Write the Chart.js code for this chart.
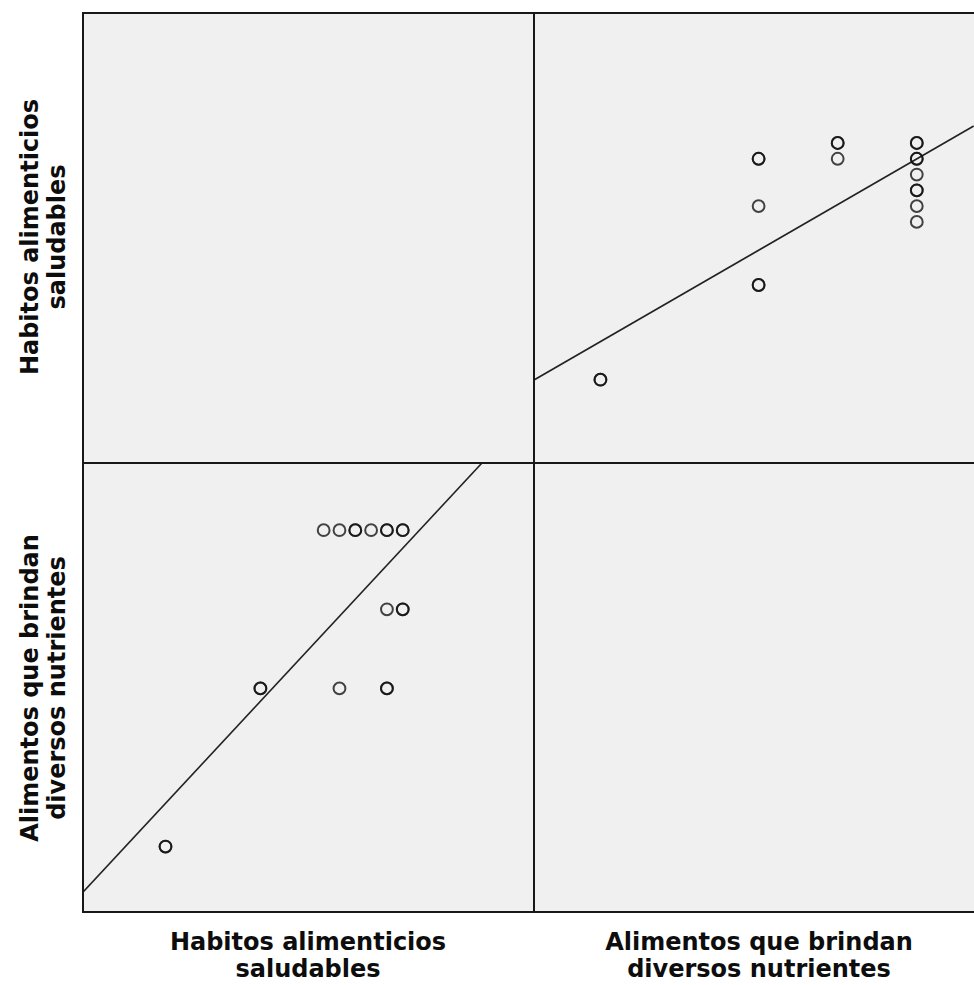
<!DOCTYPE html>
<html>
<head>
<meta charset="utf-8">
<script src="https://cdn.jsdelivr.net/npm/chart.js@4.4.0/dist/chart.umd.min.js"></script>
<style>
  html, body { margin: 0; padding: 0; background: #fff; }
  #root { position: relative; width: 974px; height: 985px; overflow: hidden; background: #fff; }
  .bg { position: absolute; left: 82px; top: 12px; width: 902px; height: 901px; background: #f0f0f0; }
  canvas { position: absolute; }
  .ln { position: absolute; background: #181818; }
  .lab { position: absolute; font-family: "DejaVu Sans", Verdana, sans-serif; font-weight: bold; font-size: 24px;
         line-height: 27px; color: #0d0d0d; text-align: center; white-space: nowrap; }
  .rot { transform: translate(-50%, -50%) rotate(-90deg); }
  .hor { transform: translate(-50%, 0); }
</style>
</head>
<body>
<div id="root">
  <div class="bg"></div>
  <canvas id="bl" width="452" height="450" style="left:82px;top:463px"></canvas>
  <canvas id="tr" width="450" height="451" style="left:534px;top:12px"></canvas>
  <div class="ln" style="left:82px;top:12px;width:902px;height:2px"></div>
  <div class="ln" style="left:82px;top:911px;width:902px;height:2px"></div>
  <div class="ln" style="left:82px;top:12px;width:2px;height:901px"></div>
  <div class="ln" style="left:533px;top:12px;width:2px;height:901px"></div>
  <div class="ln" style="left:82px;top:462px;width:902px;height:2px"></div>
  <div class="lab rot" id="ly1" style="left:44px;top:237px"></div>
  <div class="lab rot" id="ly2" style="left:44px;top:688px"></div>
  <div class="lab hor" id="lx1" style="left:308px;top:929px"></div>
  <div class="lab hor" id="lx2" style="left:759px;top:929px"></div>
</div>
<script>
// Variable names (two lines each)
const varNames = [
  ["Habitos alimenticios", "saludables"],
  ["Alimentos que brindan", "diversos nutrientes"]
];
// Cases (repeated values = overlapping cases)
const habitos   = [15,15,21,21,26,29,29,29,30,30,25,26,27,27,28,29,29,30,30];
const alimentos = [4, 4, 6, 6, 6, 6, 6, 7, 7, 7, 8, 8, 8, 8, 8, 8, 8, 8, 8];
// Axis ranges
const habRange = [9.72, 38.3];
const aliRange = [3.16, 8.85];
// Fit lines
const fitAliOnHab = { x: [9.72, 35.01], y: [3.41, 8.85] };
const fitHabOnAli = { x: [3.16, 8.72], y: [14.98, 31.08] };

document.getElementById('ly1').innerHTML = varNames[0].join('<br>');
document.getElementById('ly2').innerHTML = varNames[1].join('<br>');
document.getElementById('lx1').innerHTML = varNames[0].join('<br>');
document.getElementById('lx2').innerHTML = varNames[1].join('<br>');

function makePanel(id, xs, ys, fit, xr, yr) {
  const pts = xs.map((v, i) => ({ x: v, y: ys[i] }));
  const line = fit.x.map((v, i) => ({ x: v, y: fit.y[i] }));
  new Chart(document.getElementById(id), {
    type: 'scatter',
    data: {
      datasets: [
        {
          data: line, showLine: true, pointRadius: 0, borderColor: '#222',
          borderWidth: 1.6, fill: false, order: 2, clip: false
        },
        {
          data: pts, pointStyle: 'circle', pointRadius: 5.9, pointHoverRadius: 5.9,
          borderColor: 'rgba(15,15,15,0.78)', backgroundColor: 'rgba(0,0,0,0)',
          pointBorderWidth: 2, order: 1
        }
      ]
    },
    options: {
      responsive: false, animation: false, events: [],
      layout: { padding: 0, autoPadding: false },
      plugins: { legend: { display: false }, tooltip: { enabled: false } },
      scales: {
        x: { type: 'linear', display: false, min: xr[0], max: xr[1] },
        y: { type: 'linear', display: false, min: yr[0], max: yr[1] }
      }
    }
  });
}

makePanel('bl', habitos, alimentos, fitAliOnHab, habRange, aliRange);
makePanel('tr', alimentos, habitos, fitHabOnAli, aliRange, habRange);
</script>
</body>
</html>
